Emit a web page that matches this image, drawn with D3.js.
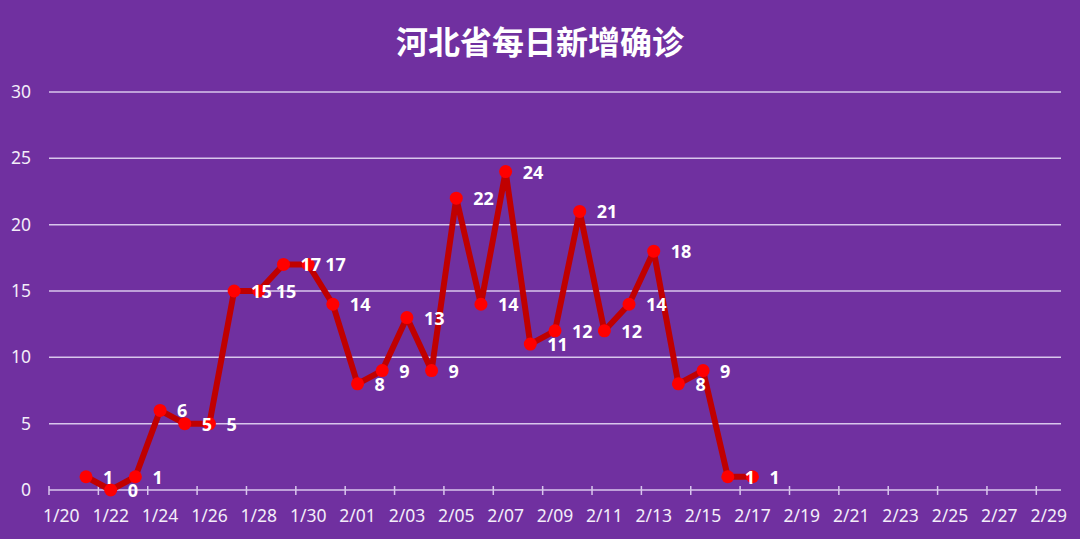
<!DOCTYPE html>
<html>
<head>
<meta charset="utf-8">
<script src="https://cdn.jsdelivr.net/npm/d3@7/dist/d3.min.js"></script>
<style>
  html, body { margin: 0; padding: 0; background: #7030A0; }
  svg { display: block; }
</style>
</head>
<body>
<svg id="chart" width="1080" height="539"></svg>
<script>
// ---- data ----
const categories = [
  "1/20","1/21","1/22","1/23","1/24","1/25","1/26","1/27","1/28","1/29","1/30","1/31",
  "2/01","2/02","2/03","2/04","2/05","2/06","2/07","2/08","2/09","2/10","2/11","2/12",
  "2/13","2/14","2/15","2/16","2/17","2/18","2/19","2/20","2/21","2/22","2/23","2/24",
  "2/25","2/26","2/27","2/28","2/29"
];
const newCases = [
  null, 1, 0, 1, 6, 5, 5, 15, 15, 17, 17, 14,
  8, 9, 13, 9, 22, 14, 24, 11, 12, 21, 12, 14,
  18, 8, 9, 1, 1, null, null, null, null, null, null, null,
  null, null, null, null, null
];
const yTicks = [0, 5, 10, 15, 20, 25, 30];
const title = "河北省每日新增确诊";

// ---- layout ----
const W = 1080, H = 539;
const plotLeft = 49, plotRight = 1061, plotTop = 92, plotBottom = 490;
const svg = d3.select("#chart");

svg.append("rect").attr("width", W).attr("height", H).attr("fill", "#7030A0");

const x = d3.scaleBand().domain(categories).range([plotLeft, plotRight]).padding(0);
const y = d3.scaleLinear().domain([0, 30]).range([plotBottom, plotTop]);

// title
svg.append("text")
  .attr("x", 540).attr("y", 54)
  .attr("text-anchor", "middle")
  .attr("fill", "#ffffff")
  .attr("font-family", "'Noto Sans CJK SC', sans-serif")
  .attr("font-weight", "bold")
  .attr("font-size", 32)
  .text(title);

// gridlines
svg.append("g").selectAll("line")
  .data(yTicks)
  .join("line")
  .attr("x1", plotLeft).attr("x2", plotRight)
  .attr("y1", d => y(d)).attr("y2", d => y(d))
  .attr("stroke", "#d8c6ec")
  .attr("stroke-width", 1.5);

// y axis labels
const yAxis = d3.axisLeft(y).tickValues(yTicks).tickSize(0).tickPadding(0);
const gy = svg.append("g").attr("transform", "translate(31,0)").call(yAxis);
gy.select(".domain").remove();
gy.selectAll("text")
  .attr("fill", "#f3edf9")
  .attr("font-family", "'Noto Sans', sans-serif")
  .attr("font-size", 17.5);

// x axis labels (every other category, centered on the category)
const labelCats = categories.filter((d, i) => i % 2 === 0);
const xAxis = d3.axisBottom(x).tickValues(labelCats).tickSize(0).tickPadding(0);
const gx = svg.append("g").attr("transform", `translate(0,${plotBottom + 20})`).call(xAxis);
gx.select(".domain").remove();
gx.selectAll("text")
  .attr("fill", "#f3edf9")
  .attr("font-family", "'Noto Sans', sans-serif")
  .attr("font-size", 17.5)
  .attr("dy", "0.71em");

// cross tick marks at category boundaries, every 2 categories
svg.append("g").selectAll("line")
  .data(labelCats)
  .join("line")
  .attr("x1", d => x(d)).attr("x2", d => x(d))
  .attr("y1", plotBottom - 4).attr("y2", plotBottom + 5)
  .attr("stroke", "#d8c6ec")
  .attr("stroke-width", 1.5);

// line
const pts = categories.map((c, i) => ({ c, v: newCases[i] })).filter(d => d.v !== null);
const cx = d => x(d.c) + x.bandwidth() / 2;

svg.append("path")
  .datum(pts)
  .attr("fill", "none")
  .attr("stroke", "#C00000")
  .attr("stroke-width", 6)
  .attr("stroke-linejoin", "round")
  .attr("d", d3.line().x(cx).y(d => y(d.v)));

// markers
svg.append("g").selectAll("circle")
  .data(pts)
  .join("circle")
  .attr("cx", cx)
  .attr("cy", d => y(d.v))
  .attr("r", 6.5)
  .attr("fill", "#FF0000");

// data labels (right of point)
svg.append("g").selectAll("text")
  .data(pts)
  .join("text")
  .attr("x", d => cx(d) + 17)
  .attr("y", d => y(d.v) + 7)
  .attr("fill", "#ffffff")
  .attr("font-family", "'Noto Sans', sans-serif")
  .attr("font-weight", "bold")
  .attr("font-size", 18)
  .text(d => d.v);
</script>
</body>
</html>
